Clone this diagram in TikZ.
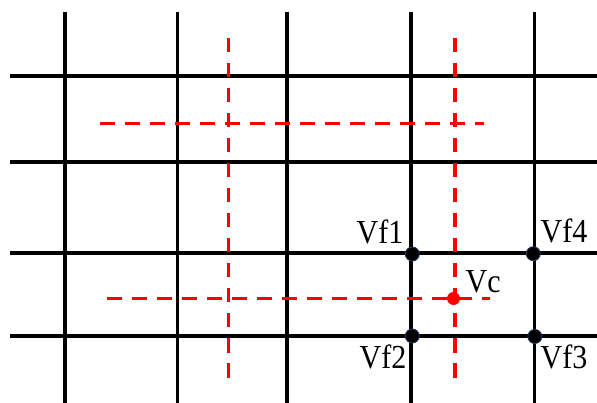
\documentclass[tikz,border=0pt]{standalone}
\usepackage{fontspec}
\setmainfont{Liberation Serif}
\definecolor{dotedge}{RGB}{31,56,100}
\definecolor{gridred}{RGB}{255,0,0}
\begin{document}
\begin{tikzpicture}[x=1pt,y=-1pt,
  gridline/.style={line width=3.5pt,black},
  reddash/.style={line width=3.5pt,gridred,dash pattern=on 14.5pt off 10.5pt},
  blackdot/.style={circle,fill=black,draw=dotedge,line width=0.9pt,minimum size=14pt,inner sep=0pt},
  reddot/.style={circle,fill=gridred,minimum size=13pt,inner sep=0pt},
  lbl/.style={inner sep=0pt,font=\fontsize{30}{32}\selectfont}]
\useasboundingbox (0,0) rectangle (597,403);
% black grid
\foreach \x in {65,177.7,287,411,534.3} \draw[gridline] (\x,12) -- (\x,403);
\foreach \y in {76,162,253,336} \draw[gridline] (10,\y) -- (597,\y);
% red dashed grid
\draw[reddash] (228.7,38) -- (228.7,378);
\draw[reddash] (455,38) -- (455,378);
\draw[reddash] (100,123.7) -- (484,123.7);
\draw[reddash] (107,298.5) -- (490,298.5);
% dots
\node[blackdot] (vf1) at (412.3,254) {};
\node[blackdot] (vf4) at (533.3,253.7) {};
\node[blackdot] (vf2) at (412.3,336) {};
\node[blackdot] (vf3) at (534.8,336.5) {};
\node[reddot] (vc) at (453.5,298.5) {};
% labels
\node[lbl,anchor=base east] (lvf1) at (403.5,244) {\scalebox{1}[1.12]{Vf1}};
\node[lbl,anchor=base east] (lvf2) at (406.5,368.3) {\scalebox{1}[1.12]{Vf2}};
\node[lbl,anchor=base west] (lvf4) at (540.5,242.8) {\scalebox{1}[1.12]{Vf4}};
\node[lbl,anchor=base west] (lvf3) at (540.5,368.3) {\scalebox{1}[1.12]{Vf3}};
\node[lbl,anchor=base west] (lvc) at (465.5,293) {\scalebox{1}[1.12]{Vc}};
\end{tikzpicture}
\end{document}
